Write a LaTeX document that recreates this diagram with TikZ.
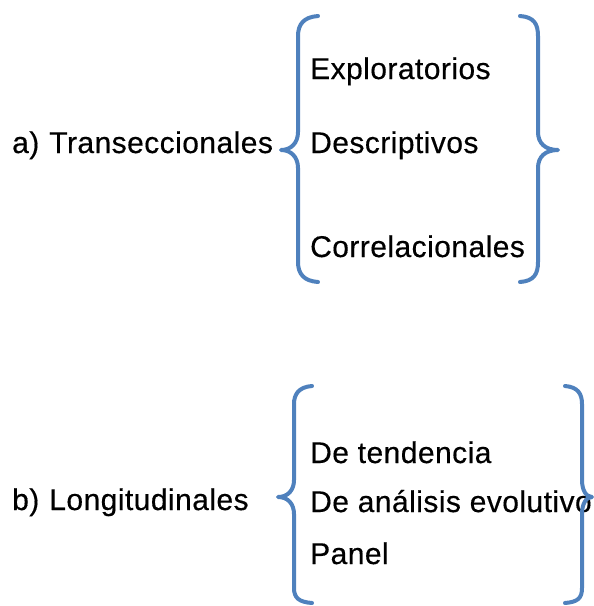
\documentclass[tikz,border=0pt]{standalone}
\usepackage{fontspec}
\setmainfont[FakeBold=0.4,LetterSpace=1.5]{Liberation Sans}
\definecolor{braceblue}{RGB}{79,129,189}
\begin{document}
\begin{tikzpicture}[x=1pt,y=-1pt,
  lbl/.style={anchor=base west,inner sep=0pt,font=\fontsize{30}{36}\selectfont},
  bracestyle/.style={draw=braceblue,line width=4pt,line cap=round,line join=round}]
\useasboundingbox (0,0) rectangle (594,606);
% group a
\node[lbl] (ta) at (12,153) {a)\hspace{10pt}Transeccionales};
\node[lbl] (a1) at (310,79) {Exploratorios};
\node[lbl] (a2) at (310,153) {Descriptivos};
\node[lbl] (a3) at (310,257) {Correlacionales};
% group b
\node[lbl] (tb) at (12,510) {b)\hspace{10pt}Longitudinales};
\node[lbl] (b1) at (310,463) {De tendencia};
\node[lbl] (b2) at (310,512) {De análisis evolutivo};
\node[lbl] (b3) at (310,564) {Panel};
% braces a
\draw[bracestyle] (318,16) .. controls (304,17) and (298,24) .. (298,36)
  -- (298,132) .. controls (298,143) and (291,150) .. (281,150)
  .. controls (291,150) and (298,157) .. (298,168)
  -- (298,262) .. controls (298,274) and (304,281) .. (318,282);
\draw[bracestyle] (520,16) .. controls (534,17) and (538,24) .. (538,36)
  -- (538,132) .. controls (538,143) and (545,150) .. (558,150)
  .. controls (545,150) and (538,157) .. (538,168)
  -- (538,262) .. controls (538,274) and (534,281) .. (520,282);
% braces b
\draw[bracestyle] (312,386) .. controls (299,387) and (294,394) .. (294,404)
  -- (294,480) .. controls (294,490) and (288,497) .. (278,497)
  .. controls (288,497) and (294,504) .. (294,514)
  -- (294,588) .. controls (294,598) and (299,602) .. (312,603);
\draw[bracestyle] (565,386) .. controls (578,387) and (582,394) .. (582,404)
  -- (582,480) .. controls (582,490) and (586,497) .. (592,497)
  .. controls (586,497) and (582,504) .. (582,514)
  -- (582,588) .. controls (582,598) and (578,602) .. (565,603);
\end{tikzpicture}
\end{document}
